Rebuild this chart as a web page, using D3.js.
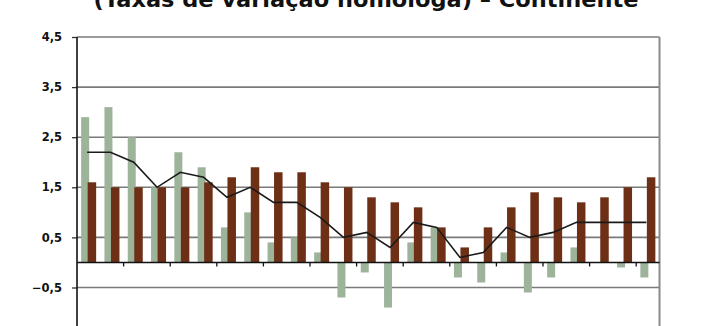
<!DOCTYPE html>
<html>
<head>
<meta charset="utf-8">
<script src="https://cdn.jsdelivr.net/npm/d3@7"></script>
<style>
  body { margin: 0; background: #fff; }
  svg { display: block; }
</style>
</head>
<body>
<script>
// values, one per period
var periods = d3.range(1, 26).map(function (d) { return "p" + d; });
var greenVals = [2.9, 3.1, 2.5, 1.5, 2.2, 1.9, 0.7, 1.0, 0.4, 0.5, 0.2, -0.7, -0.2,
                 -0.9, 0.4, 0.7, -0.3, -0.4, 0.2, -0.6, -0.3, 0.3, 0, -0.1, -0.3];
var brownVals = [1.6, 1.5, 1.5, 1.5, 1.5, 1.6, 1.7, 1.9, 1.8, 1.8, 1.6, 1.5, 1.3,
                 1.2, 1.1, 0.7, 0.3, 0.7, 1.1, 1.4, 1.3, 1.2, 1.3, 1.5, 1.7];
var lineVals = [2.2, 2.2, 2.0, 1.5, 1.8, 1.7, 1.3, 1.5, 1.2, 1.2, 0.9, 0.5, 0.6,
                0.3, 0.8, 0.7, 0.1, 0.2, 0.7, 0.5, 0.6, 0.8, 0.8, 0.8, 0.8];
var yTicks = [4.5, 3.5, 2.5, 1.5, 0.5, -0.5, -1.5];
var title = "(Taxas de variação homóloga) – Continente";

var width = 712, height = 326;
var plotLeft = 77, plotRight = 659.5, plotTop = 37;

var svg = d3.select("body").append("svg")
    .attr("width", width)
    .attr("height", height);

var x = d3.scaleBand().domain(periods).range([plotLeft, plotRight]).padding(0);
var y = d3.scaleLinear().domain([-1.5, 4.5]).range([plotTop + 300.6, plotTop]);
var bw = x.bandwidth();

// title (only the lower half fits in the picture)
svg.append("text")
    .attr("x", 366)
    .attr("y", 6.5)
    .attr("text-anchor", "middle")
    .attr("font-family", "DejaVu Sans, Verdana, sans-serif")
    .attr("font-weight", "bold")
    .attr("font-size", 22)
    .attr("textLength", 545)
    .attr("lengthAdjust", "spacingAndGlyphs")
    .attr("fill", "#111")
    .text(title);

// gridlines
svg.append("g").selectAll("line")
    .data(yTicks)
    .join("line")
    .attr("x1", plotLeft)
    .attr("x2", plotRight)
    .attr("y1", function (d) { return y(d); })
    .attr("y2", function (d) { return y(d); })
    .attr("stroke", "#7a7a7a")
    .attr("stroke-width", 1.6);

// right border
svg.append("line")
    .attr("x1", plotRight).attr("x2", plotRight)
    .attr("y1", plotTop).attr("y2", height + 20)
    .attr("stroke", "#8a8a8a")
    .attr("stroke-width", 2);

// y axis
var yAxis = d3.axisLeft(y)
    .tickValues(yTicks)
    .tickSize(5)
    .tickPadding(10)
    .tickFormat(function (d) { return d3.format(".1f")(d).replace(".", ","); });

var ya = svg.append("g")
    .attr("transform", "translate(" + plotLeft + ",0)")
    .call(yAxis);
ya.select(".domain").remove();
ya.selectAll(".tick line").attr("stroke", "#333").attr("stroke-width", 1.3);
ya.selectAll(".tick text")
    .attr("font-family", "Verdana, DejaVu Sans, sans-serif")
    .attr("font-weight", "bold")
    .attr("font-size", 11.5)
    .attr("fill", "#111");
ya.append("line")
    .attr("x1", 0).attr("x2", 0)
    .attr("y1", plotTop).attr("y2", height + 20)
    .attr("stroke", "#111")
    .attr("stroke-width", 1.6);

// bars
svg.append("g").selectAll("rect")
    .data(greenVals)
    .join("rect")
    .attr("x", function (d, i) { return x(periods[i]) + bw / 2 - 7.5; })
    .attr("width", 8)
    .attr("y", function (d) { return y(Math.max(0, d)); })
    .attr("height", function (d) { return Math.abs(y(d) - y(0)); })
    .attr("fill", "#9db49b");

svg.append("g").selectAll("rect")
    .data(brownVals)
    .join("rect")
    .attr("x", function (d, i) { return x(periods[i]) + bw / 2 - 1; })
    .attr("width", 8.5)
    .attr("y", function (d) { return y(Math.max(0, d)); })
    .attr("height", function (d) { return Math.abs(y(d) - y(0)); })
    .attr("fill", "#6d2f16");

// zero line with small ticks every second period
svg.append("line")
    .attr("x1", plotLeft).attr("x2", plotRight)
    .attr("y1", y(0)).attr("y2", y(0))
    .attr("stroke", "#111")
    .attr("stroke-width", 1.6);

svg.append("g").selectAll("line")
    .data(periods.filter(function (d, i) { return i % 2 === 0 && i > 0; }))
    .join("line")
    .attr("x1", function (d) { return x(d); })
    .attr("x2", function (d) { return x(d); })
    .attr("y1", y(0))
    .attr("y2", y(0) + 4)
    .attr("stroke", "#111")
    .attr("stroke-width", 1.3);

// trend line
var line = d3.line()
    .x(function (d, i) { return x(periods[i]) + bw / 2 - 1.5; })
    .y(function (d) { return y(d); });

svg.append("path")
    .datum(lineVals)
    .attr("d", line)
    .attr("fill", "none")
    .attr("stroke", "#1a1a1a")
    .attr("stroke-width", 1.6);
</script>
</body>
</html>
